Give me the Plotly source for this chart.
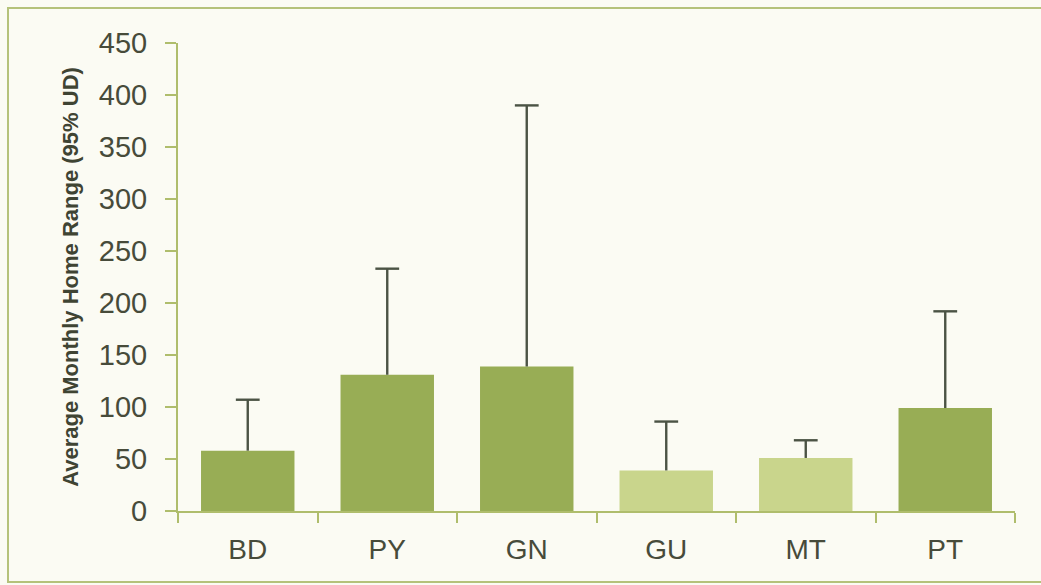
import plotly.graph_objects as go

categories = ["BD", "PY", "GN", "GU", "MT", "PT"]
mean_range = [58, 131, 139, 39, 51, 99]
upper_range = [107, 233, 390, 86, 68, 192]
bar_colors = ["#98ad55", "#98ad55", "#98ad55", "#c9d58c", "#c9d58c", "#98ad55"]
y_ticks = [0, 50, 100, 150, 200, 250, 300, 350, 400, 450]

text_col = "#474b3a"
axis_col = "#afbd6c"
err_col = "#4b5344"
bg = "#fbfbf3"

fig = go.Figure()
fig.add_trace(go.Bar(
    x=categories, y=mean_range,
    marker=dict(color=bar_colors, line=dict(width=0)),
    showlegend=False, hoverinfo="skip",
))

stem_x, stem_y = [], []
for c, m, u in zip(categories, mean_range, upper_range):
    stem_x += [c, c, None]
    stem_y += [m, u, None]
fig.add_trace(go.Scatter(
    x=stem_x, y=stem_y, mode="lines",
    line=dict(color=err_col, width=2.4),
    showlegend=False, hoverinfo="skip",
))
fig.add_trace(go.Scatter(
    x=categories, y=upper_range, mode="markers",
    marker=dict(symbol="line-ew", size=17, line=dict(color=err_col, width=2.4)),
    showlegend=False, hoverinfo="skip",
))

fig.update_layout(
    width=1041, height=585,
    margin=dict(l=178, r=26, t=43, b=74, autoexpand=False),
    paper_bgcolor=bg, plot_bgcolor=bg,
    bargap=0.33,
    font=dict(family="Liberation Sans, Arial, sans-serif", color=text_col),
    xaxis=dict(
        type="category", showgrid=False, zeroline=False, automargin=False,
        showline=True, linecolor=axis_col, linewidth=2,
        ticks="outside", tickson="boundaries", ticklen=10, tickcolor=axis_col, tickwidth=2,
        tickfont=dict(size=28, color=text_col), ticklabelstandoff=12,
    ),
    yaxis=dict(
        range=[0, 450], tickvals=y_ticks, showgrid=False, zeroline=False, automargin=False,
        showline=True, linecolor=axis_col, linewidth=2,
        ticks="outside", ticklen=11, tickcolor=axis_col, tickwidth=2,
        tickfont=dict(size=29, color=text_col), ticklabelstandoff=12,
        title=dict(text="<b>Average Monthly Home Range (95% UD)</b>",
                   font=dict(size=22, color="#3f4433",
                             family="Liberation Sans Narrow, Arial Narrow, Liberation Sans, sans-serif"),
                   standoff=14),
    ),
    shapes=[dict(type="rect", xref="paper", yref="paper",
                 x0=-170/837, x1=1.05, y0=-71/468, y1=1 + 35/468,
                 line=dict(color="#b5c27a", width=2), fillcolor="rgba(0,0,0,0)",
                 layer="below")],
)

fig.write_html("out.html", config={"displayModeBar": False},
               post_script="document.body.style.margin='0';document.body.style.background='%s';" % bg)
